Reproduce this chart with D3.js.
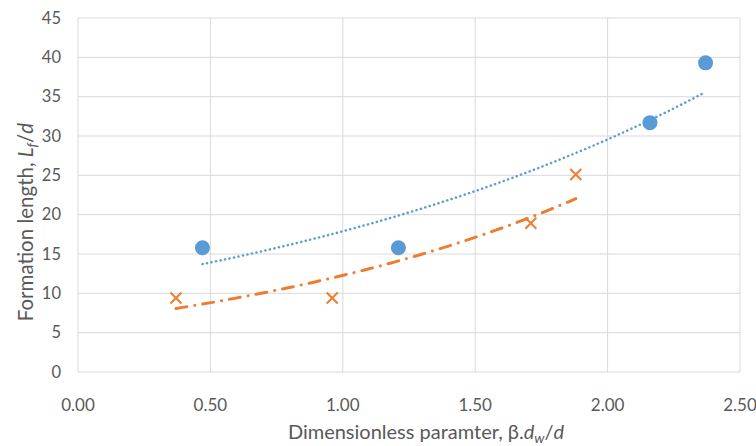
<!DOCTYPE html>
<html>
<head>
<meta charset="utf-8">
<script src="https://cdn.jsdelivr.net/npm/d3@7"></script>
<style>
  body { margin: 0; background: #fff; }
  svg text { font-family: Lato, "Open Sans", sans-serif; fill: #595959; }
</style>
</head>
<body>
<svg id="chart" width="756" height="446"></svg>
<script>
// Series 1 (blue circles)
const blueX = [0.47, 1.21, 2.16, 2.37];
const blueY = [15.8, 15.8, 31.7, 39.3];
// Series 2 (orange crosses)
const orangeX = [0.37, 0.96, 1.71, 1.88];
const orangeY = [9.4, 9.4, 18.9, 25.1];

const xTicks = [0, 0.5, 1.0, 1.5, 2.0, 2.5];
const yTicks = [0, 5, 10, 15, 20, 25, 30, 35, 40, 45];

const margin = { left: 78, right: 16, top: 18, bottom: 74 };
const width = 756, height = 446;

const svg = d3.select("#chart");

const x = d3.scaleLinear().domain([0, 2.5]).range([margin.left, width - margin.right]);
const y = d3.scaleLinear().domain([0, 45]).range([height - margin.bottom, margin.top]);

// gridlines
svg.append("g")
  .selectAll("line")
  .data(yTicks)
  .join("line")
  .attr("x1", x(0)).attr("x2", x(2.5))
  .attr("y1", d => y(d)).attr("y2", d => y(d))
  .attr("stroke", "#d9d9d9").attr("stroke-width", 1);

svg.append("g")
  .selectAll("line")
  .data(xTicks)
  .join("line")
  .attr("y1", y(0)).attr("y2", y(45))
  .attr("x1", d => x(d)).attr("x2", d => x(d))
  .attr("stroke", "#d9d9d9").attr("stroke-width", 1);

// tick labels
svg.append("g")
  .selectAll("text")
  .data(yTicks)
  .join("text")
  .attr("x", x(0) - 17)
  .attr("y", d => y(d))
  .attr("dy", "0.35em")
  .attr("text-anchor", "end")
  .style("font-size", "16.5px")
  .text(d => d);

svg.append("g")
  .selectAll("text")
  .data(xTicks)
  .join("text")
  .attr("x", d => x(d))
  .attr("y", y(0) + 39)
  .attr("text-anchor", "middle")
  .style("font-size", "17px")
  .text(d => d.toFixed(2));

// axis titles
const xt = svg.append("text")
  .attr("x", 426)
  .attr("y", 439)
  .attr("text-anchor", "middle")
  .style("font-size", "20px");
xt.append("tspan").text("Dimensionless paramter, β.");
xt.append("tspan").style("font-style", "italic").text("d");
xt.append("tspan").style("font-style", "italic").style("font-size", "14px").attr("dy", 4).text("w");
xt.append("tspan").attr("dy", -4).text("/");
xt.append("tspan").style("font-style", "italic").text("d");

const yt = svg.append("text")
  .attr("transform", "translate(33, 222) rotate(-90)")
  .attr("text-anchor", "middle")
  .style("font-size", "20.5px");
yt.append("tspan").text("Formation length, ");
yt.append("tspan").style("font-style", "italic").text("L");
yt.append("tspan").style("font-style", "italic").style("font-size", "14px").attr("dy", 4).text("f");
yt.append("tspan").attr("dy", -4).text("/");
yt.append("tspan").style("font-style", "italic").text("d");

// exponential trendline (least squares on ln y), as Excel does
function expFit(xs, ys) {
  const ly = ys.map(Math.log);
  const mx = d3.mean(xs), my = d3.mean(ly);
  const b = d3.sum(xs, (v, i) => (v - mx) * (ly[i] - my)) / d3.sum(xs, v => (v - mx) ** 2);
  const a = Math.exp(my - b * mx);
  const [x0, x1] = d3.extent(xs);
  return d3.range(0, 61).map(i => {
    const xv = x0 + (x1 - x0) * i / 60;
    return [xv, a * Math.exp(b * xv)];
  });
}

const line = d3.line().x(d => x(d[0])).y(d => y(d[1]));

svg.append("path")
  .datum(expFit(blueX, blueY))
  .attr("d", line)
  .attr("fill", "none")
  .attr("stroke", "#5b9bd5")
  .attr("stroke-width", 2.5)
  .attr("stroke-linecap", "round")
  .attr("stroke-dasharray", "0.1 4.5");

svg.append("path")
  .datum(expFit(orangeX, orangeY))
  .attr("d", line)
  .attr("fill", "none")
  .attr("stroke", "#ed7d31")
  .attr("stroke-width", 3)
  .attr("stroke-linecap", "round")
  .attr("stroke-dasharray", "11 8 0.1 8");

// markers
svg.append("g")
  .selectAll("circle")
  .data(blueX.map((v, i) => [v, blueY[i]]))
  .join("circle")
  .attr("cx", d => x(d[0]))
  .attr("cy", d => y(d[1]))
  .attr("r", 7.5)
  .attr("fill", "#5b9bd5");

const s = 5.5;
svg.append("g")
  .selectAll("path")
  .data(orangeX.map((v, i) => [v, orangeY[i]]))
  .join("path")
  .attr("d", d => {
    const cx = x(d[0]), cy = y(d[1]);
    return `M${cx - s},${cy - s}L${cx + s},${cy + s}M${cx - s},${cy + s}L${cx + s},${cy - s}`;
  })
  .attr("stroke", "#ed7d31")
  .attr("stroke-width", 2)
  .attr("fill", "none");
</script>
</body>
</html>
